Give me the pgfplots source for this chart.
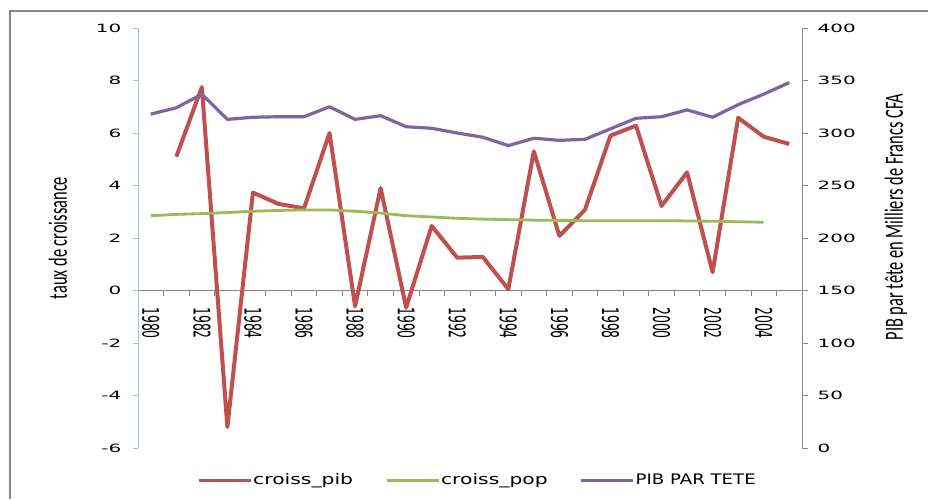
\documentclass[border=0pt]{standalone}
\usepackage{fontspec}
\setmainfont{DejaVu Sans}
\newfontfamily\lab{Carlito}
\usepackage{pgfplots}
\pgfplotsset{compat=1.18}
\definecolor{pibRed}{RGB}{192,80,77}
\definecolor{popGreen}{RGB}{155,187,89}
\definecolor{tetePurple}{RGB}{128,100,162}
\definecolor{axBlue}{RGB}{166,190,228}
\definecolor{axGray}{RGB}{134,134,134}

% text in the reference is stretched sideways
\newcommand{\yt}[1]{\scalebox{1.75}[1]{#1}}
\newcommand{\xt}[1]{\scalebox{1}[1.84]{#1}}
\newcommand{\lt}[1]{\scalebox{1}[1.6]{#1}}

\pgfplotstableread{
year pib
1981 5.1
1982 7.75
1983 -5.2
1984 3.73
1985 3.3
1986 3.13
1987 6.0
1988 -0.6
1989 3.9
1990 -0.65
1991 2.46
1992 1.25
1993 1.28
1994 0.05
1995 5.3
1996 2.08
1997 3.07
1998 5.9
1999 6.28
2000 3.22
2001 4.5
2002 0.7
2003 6.58
2004 5.86
2005 5.58
}\pibdata

\pgfplotstableread{
year pop
1980 2.85
1981 2.90
1982 2.93
1983 2.97
1984 3.02
1985 3.05
1986 3.07
1987 3.07
1988 3.02
1989 2.95
1990 2.85
1991 2.80
1992 2.75
1993 2.72
1994 2.70
1995 2.68
1996 2.67
1997 2.66
1998 2.66
1999 2.66
2000 2.66
2001 2.65
2002 2.64
2003 2.62
2004 2.60
}\popdata

\pgfplotstableread{
year tete
1980 318
1981 324
1982 337
1983 313
1984 315
1985 315.5
1986 315.5
1987 325
1988 313
1989 316.5
1990 306
1991 304.5
1992 300
1993 296
1994 288
1995 295
1996 293
1997 294
1998 304
1999 314
2000 315.5
2001 322
2002 315
2003 327
2004 337
2005 348
}\tetedata

\begin{document}
\begin{tikzpicture}
\useasboundingbox (0pt,0pt) rectangle (928pt,-499pt);
\draw[axGray, line width=1.5pt] (10pt,-499pt) -- (10pt,-11pt) -- (928pt,-11pt);

\begin{axis}[
  at={(138pt,-448pt)}, anchor=south west,
  scale only axis, width=664pt, height=420pt,
  xmin=1979.5, xmax=2005.5, ymin=-6, ymax=10,
  axis y line*=left, axis x line*=middle,
  y axis line style={axBlue, line width=1pt},
  x axis line style={axGray, line width=1pt},
  tick align=outside,
  major tick length=5.5pt,
  ytick={-6,-4,...,10},
  yticklabels={\yt{-6},\yt{-4},\yt{-2},\yt{0},\yt{2},\yt{4},\yt{6},\yt{8},\yt{10}},
  y tick style={axBlue, line width=1pt},
  yticklabel style={font=\fontsize{11.4}{12}\selectfont, inner sep=0pt},
  yticklabel shift=11pt,
  xtick={1979.5,1980.5,...,2005.5},
  xticklabels={},
  x tick style={axGray, line width=0.8pt},
  extra x ticks={1980,1982,...,2004},
  extra x tick labels={\xt{1980},\xt{1982},\xt{1984},\xt{1986},\xt{1988},\xt{1990},\xt{1992},\xt{1994},\xt{1996},\xt{1998},\xt{2000},\xt{2002},\xt{2004}},
  extra x tick style={tick style={draw=none}},
  xticklabel style={rotate=-90, anchor=west, font=\fontsize{12.45}{13}\selectfont, inner sep=0pt},
  xticklabel shift=11pt,
  clip=false,
]
\addplot[pibRed, line width=4pt, line join=round] table[x=year, y=pib] {\pibdata};
\addplot[popGreen, line width=2.8pt, line join=round] table[x=year, y=pop] {\popdata};
\node[rotate=90, anchor=base, inner sep=0pt, font=\lab\fontsize{16.4}{18}\selectfont]
  at (rel axis cs:-0.107,0.5) {\lt{taux de croissance}};
\end{axis}

\begin{axis}[
  at={(138pt,-448pt)}, anchor=south west,
  scale only axis, width=664pt, height=420pt,
  xmin=1979.5, xmax=2005.5, ymin=0, ymax=400,
  axis y line*=right, axis x line=none,
  y axis line style={axGray, line width=1pt},
  tick align=outside, major tick length=5.5pt,
  ytick={0,50,...,400},
  yticklabels={\yt{0},\yt{50},\yt{100},\yt{150},\yt{200},\yt{250},\yt{300},\yt{350},\yt{400}},
  y tick style={axGray, line width=1pt},
  yticklabel style={font=\fontsize{11.4}{12}\selectfont, inner sep=0pt},
  yticklabel shift=10pt,
  ylabel={\lt{PIB par tête en Milliers de Francs CFA}},
  ylabel style={font=\lab\fontsize{16.4}{18}\selectfont, at={(axis description cs:1.152,0.55)}, anchor=base, inner sep=0pt},
  legend columns=3,
  legend image code/.code={\draw[#1, line width=3pt] (0pt,0pt) -- (52pt,0pt);},
  legend style={at={(axis description cs:0.0889,-0.0762)}, anchor=west,
    draw=none, fill=none, inner sep=0pt,
    nodes={inner sep=1pt, font=\fontsize{14.5}{16}\selectfont},
    /tikz/every even column/.append style={column sep=31pt}},
]
\addlegendimage{pibRed}
\addlegendentry{\scalebox{1.4}[1]{croiss\_pib}}
\addlegendimage{popGreen}
\addlegendentry{\scalebox{1.4}[1]{croiss\_pop}}
\addplot[tetePurple, line width=3.2pt, line join=round] table[x=year, y=tete] {\tetedata};
\addlegendentry{\scalebox{1.25}[1]{PIB PAR TETE}}
\end{axis}
\end{tikzpicture}
\end{document}
